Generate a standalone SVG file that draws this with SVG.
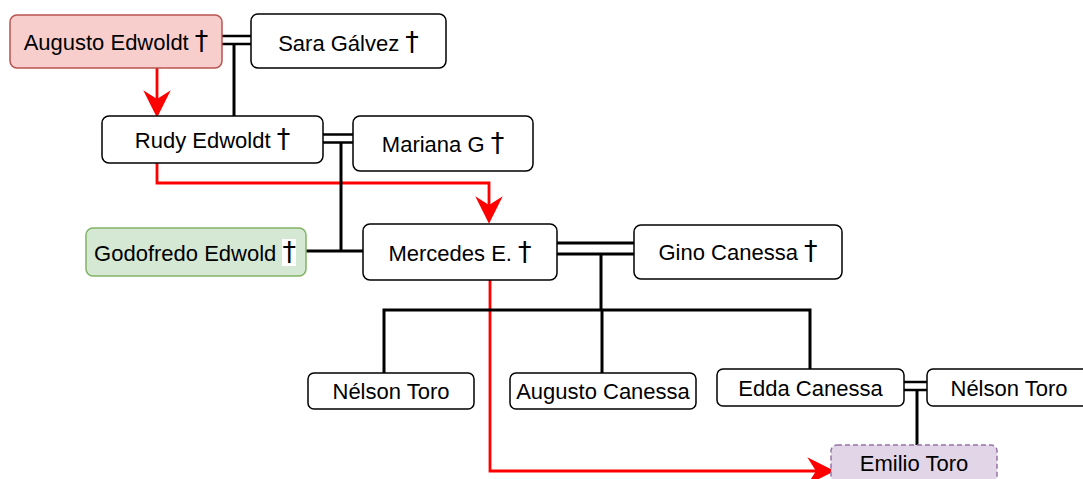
<svg xmlns="http://www.w3.org/2000/svg" width="1083" height="479" viewBox="0 0 1083 479">
<style>
.box{fill:#ffffff;stroke:#000000;stroke-width:1.5}
.red{fill:#f8cecc;stroke:#b85450;stroke-width:1.5}
.green{fill:#d5e8d4;stroke:#82b366;stroke-width:1.5}
.purple{fill:#e1d5e7;stroke:#9673a6;stroke-width:1.5;stroke-dasharray:5 3}
.t{font-family:"Liberation Sans",Arial,Helvetica,sans-serif;font-size:22px;fill:#000000;text-anchor:middle}
.dg{font-family:"DejaVu Sans",sans-serif;font-size:27px}
.k{fill:none;stroke:#000000;stroke-width:3}
.d{fill:none;stroke:#000000;stroke-width:2.5}
.r{fill:none;stroke:#ff0000;stroke-width:2.8;marker-end:url(#ar)}
</style>
<defs>
<marker id="ar" markerUnits="userSpaceOnUse" markerWidth="30" markerHeight="30" viewBox="-1 -12 24 24" refX="7" refY="0" orient="auto" overflow="visible">
<path d="M0,-11 L22,0 L0,11 L7,0 Z" fill="#ff0000"/>
</marker>
</defs>
<g id="connectors">
<path class="r" d="M157,68 V99"/>
<path class="r" d="M157,163 V183 H489 V205"/>
<path class="r" d="M490,280 V471 H816"/>
<path class="d" d="M222,36 H251 M222,44 H251"/>
<path class="k" d="M234,44 V116"/>
<path class="d" d="M323,134.5 H353 M323,142.5 H353"/>
<path class="k" d="M341,142.5 V251"/>
<path class="k" d="M306,251 H363"/>
<path class="k" d="M557,243 H634 M557,254 H634"/>
<path class="k" d="M601,254 V310"/>
<path class="k" d="M384,373 V310 H810 V369"/>
<path class="k" d="M602,310 V373"/>
<path class="d" d="M904,382 H927 M904,390 H927"/>
<path class="k" d="M917,390 V445"/>
</g>
<g id="augusto-edwoldt">
<rect class="red" x="10" y="15" width="212" height="53" rx="7"/>
<text class="t" x="116" y="50">Augusto Edwoldt <tspan class="dg">†</tspan></text>
</g>
<g id="sara-galvez">
<rect class="box" x="251" y="14" width="195" height="54" rx="7"/>
<text class="t" x="348.5" y="51">Sara Gálvez <tspan class="dg">†</tspan></text>
</g>
<g id="rudy-edwoldt">
<rect class="box" x="102" y="116" width="221" height="47" rx="7"/>
<text class="t" x="212.5" y="148">Rudy Edwoldt <tspan class="dg">†</tspan></text>
</g>
<g id="mariana-g">
<rect class="box" x="353" y="116" width="180" height="55" rx="7"/>
<text class="t" x="443" y="152">Mariana G <tspan class="dg">†</tspan></text>
</g>
<g id="godofredo-edwold">
<rect class="green" x="86" y="228" width="220" height="48" rx="7"/>
<rect x="282" y="239" width="14" height="27" fill="#ffffff"/>
<text class="t" x="195" y="261">Godofredo Edwold <tspan class="dg">†</tspan></text>
</g>
<g id="mercedes-e">
<rect class="box" x="363" y="224" width="194" height="56" rx="7"/>
<text class="t" x="460" y="261">Mercedes E. <tspan class="dg">†</tspan></text>
</g>
<g id="gino-canessa">
<rect class="box" x="634" y="225" width="208" height="54" rx="7"/>
<text class="t" x="738" y="260">Gino Canessa <tspan class="dg">†</tspan></text>
</g>
<g id="nelson-toro-1">
<rect class="box" x="308" y="373" width="166" height="36" rx="6"/>
<text class="t" x="391" y="399">Nélson Toro</text>
</g>
<g id="augusto-canessa">
<rect class="box" x="510" y="373" width="186" height="36" rx="6"/>
<text class="t" x="603" y="399">Augusto Canessa</text>
</g>
<g id="edda-canessa">
<rect class="box" x="717" y="369" width="187" height="37" rx="6"/>
<text class="t" x="810.5" y="396">Edda Canessa</text>
</g>
<g id="nelson-toro-2">
<rect class="box" x="927" y="369" width="166" height="37" rx="6"/>
<text class="t" x="1009" y="396">Nélson Toro</text>
</g>
<g id="emilio-toro">
<rect class="purple" x="831" y="445" width="166" height="37" rx="6"/>
<text class="t" x="914" y="471">Emilio Toro</text>
</g>
</svg>
